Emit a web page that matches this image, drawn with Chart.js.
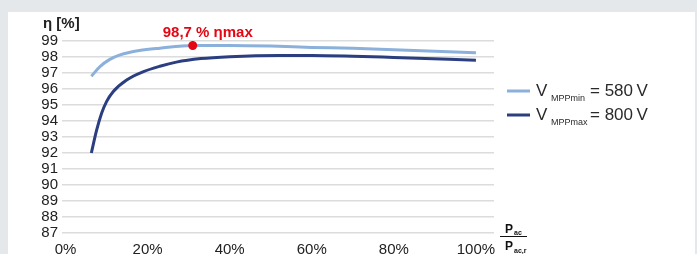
<!DOCTYPE html>
<html lang="de">
<head>
<meta charset="UTF-8">
<title>Wirkungsgrad</title>
<script src="https://cdn.jsdelivr.net/npm/chart.js@4"></script>
<style>
  * { box-sizing: border-box; margin: 0; padding: 0; }
  body { width: 697px; height: 254px; background: #e5e8eb; overflow: hidden; position: relative;
         font-family: 'Liberation Sans', Arial, sans-serif; }
  .panel { position: absolute; left: 8px; top: 12px; width: 687px; height: 242px; background: #fff; }
  canvas { position: absolute; left: 0; top: 0; }
</style>
</head>
<body>
<div class="panel"></div>
<canvas id="effChart" width="697" height="254"></canvas>
<script>
// load in % of rated AC power
const xTicks = [0, 20, 40, 60, 80, 100];
const yTicks = [87, 88, 89, 90, 91, 92, 93, 94, 95, 96, 97, 98, 99];

// V_MPPmin = 580 V
const minLoad = [6.3, 8.4, 10.8, 13.3, 18, 23, 31, 40, 50, 60, 70, 80, 100];
const minEff  = [96.8, 97.4, 97.85, 98.13, 98.4, 98.55, 98.72, 98.72, 98.68, 98.6, 98.54, 98.45, 98.27];

// V_MPPmax = 800 V
const maxLoad = [6.3, 7.6, 8.8, 10, 11.6, 14.9, 19, 23, 27, 33, 40, 52, 60, 70, 80, 100];
const maxEff  = [92.0, 93.44, 94.48, 95.21, 95.83, 96.56, 97.08, 97.42, 97.68, 97.9, 98.02, 98.1, 98.1, 98.05, 97.97, 97.8];

// peak efficiency marker
const peakLoad = [31];
const peakEff = [98.72];
const peakText = '98,7 % ηmax';

const LIGHT = '#8cb0dc';
const DARK = '#2b3f80';
const RED = '#e30613';
const FONT = "'Liberation Sans', Arial, sans-serif";

const toPoints = (xs, ys) => xs.map((x, i) => ({ x, y: ys[i] }));

const textPlugin = {
  id: 'texts',
  afterDraw(chart) {
    const ctx = chart.ctx;
    const xs = chart.scales.x, ys = chart.scales.y;
    ctx.save();
    ctx.textBaseline = 'alphabetic';

    // y axis title
    ctx.fillStyle = '#222';
    ctx.font = 'bold 15px ' + FONT;
    ctx.textAlign = 'left';
    ctx.fillText('η [%]', 43, 28);

    // peak annotation
    const px = xs.getPixelForValue(peakLoad[0]);
    const py = ys.getPixelForValue(peakEff[0]);
    ctx.fillStyle = RED;
    ctx.font = 'bold 15px ' + FONT;
    ctx.textAlign = 'center';
    ctx.fillText(peakText, px + 15, py - 8);

    // legend
    const rows = [
      { color: LIGHT, sub: 'MPPmin', val: '= 580\u2009V' },
      { color: DARK, sub: 'MPPmax', val: '= 800\u2009V' }
    ];
    rows.forEach((r, i) => {
      const y = 91 + i * 24;
      ctx.strokeStyle = r.color;
      ctx.lineWidth = 3;
      ctx.beginPath();
      ctx.moveTo(507, y);
      ctx.lineTo(530, y);
      ctx.stroke();
      ctx.fillStyle = '#2a2a2a';
      ctx.textAlign = 'left';
      ctx.font = '17px ' + FONT;
      ctx.fillText('V', 536, y + 5);
      ctx.font = '9px ' + FONT;
      ctx.fillText(r.sub, 551, y + 10);
      ctx.font = '17px ' + FONT;
      ctx.fillText(r.val, 590, y + 5);
    });

    // x axis title: P_ac / P_ac,r
    ctx.fillStyle = '#111';
    ctx.font = 'bold 12px ' + FONT;
    ctx.fillText('P', 505, 233);
    ctx.fillText('P', 505, 250);
    ctx.font = 'bold 7px ' + FONT;
    ctx.fillText('ac', 514, 235);
    ctx.fillText('ac,r', 514, 253);
    ctx.strokeStyle = '#111';
    ctx.lineWidth = 1;
    ctx.beginPath();
    ctx.moveTo(500, 236.5);
    ctx.lineTo(527, 236.5);
    ctx.stroke();
    ctx.restore();
  }
};

new Chart(document.getElementById('effChart'), {
  type: 'line',
  data: {
    datasets: [
      {
        label: 'VMPPmin = 580 V',
        data: toPoints(minLoad, minEff),
        borderColor: LIGHT,
        borderWidth: 3,
        pointRadius: 0,
        cubicInterpolationMode: 'monotone',
        fill: false
      },
      {
        label: 'VMPPmax = 800 V',
        data: toPoints(maxLoad, maxEff),
        borderColor: DARK,
        borderWidth: 3,
        pointRadius: 0,
        cubicInterpolationMode: 'monotone',
        fill: false
      },
      {
        label: 'ηmax',
        data: toPoints(peakLoad, peakEff),
        order: -1,
        showLine: false,
        pointRadius: 4.5,
        pointBackgroundColor: RED,
        pointBorderColor: RED,
        pointBorderWidth: 0
      }
    ]
  },
  options: {
    responsive: false,
    animation: false,
    layout: { padding: { left: 0, top: 41, right: 203, bottom: 0 } },
    plugins: { legend: { display: false }, tooltip: { enabled: false } },
    scales: {
      x: {
        type: 'linear',
        min: -0.85,
        max: 104.4,
        afterBuildTicks: s => { s.ticks = xTicks.map(v => ({ value: v })); },
        afterFit: s => { s.height = 21; },
        grid: { display: false },
        border: { display: false },
        ticks: {
          padding: 0,
          autoSkip: false,
          maxRotation: 0,
          color: '#222',
          font: { family: FONT, size: 15 },
          callback: v => v + '%'
        }
      },
      y: {
        min: 87,
        max: 99,
        afterBuildTicks: s => { s.ticks = yTicks.map(v => ({ value: v })); },
        afterFit: s => { s.width = 62; },
        grid: { color: '#dcdcdc', lineWidth: 1.5, drawTicks: false },
        border: { display: false },
        ticks: {
          padding: 4,
          autoSkip: false,
          color: '#222',
          font: { family: FONT, size: 15 }
        }
      }
    }
  },
  plugins: [textPlugin]
});
</script>
</body>
</html>
